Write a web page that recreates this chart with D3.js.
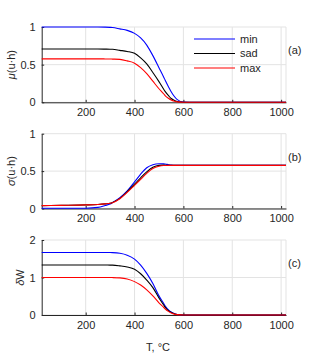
<!DOCTYPE html>
<html>
<head>
<meta charset="utf-8">
<script src="https://cdn.jsdelivr.net/npm/d3@7"></script>
<style>
  body { margin: 0; background: #fff; }
  svg text { font-family: "Liberation Sans", Arial, sans-serif; fill: #262626; }
</style>
</head>
<body>
<svg width="316" height="356"></svg>
<script>
// temperature samples (°C)
var temps = [20, 100, 200, 250, 280, 300, 310, 340, 370, 400, 425, 450, 475, 500, 520, 525, 540, 550, 560, 575, 600, 650, 700, 800, 900, 1020];

// (a) mu(u·h)
var muMin = [1, 1, 1, 1, 0.998, 0.995, 0.993, 0.975, 0.955, 0.915, 0.855, 0.76, 0.62, 0.46, 0.33, 0.295, 0.2, 0.14, 0.09, 0.035, 0.003, 0, 0, 0, 0, 0];
var muSad = [0.707, 0.707, 0.707, 0.707, 0.706, 0.705, 0.704, 0.69, 0.675, 0.65, 0.59, 0.51, 0.395, 0.275, 0.17, 0.145, 0.085, 0.05, 0.03, 0.01, 0, 0, 0, 0, 0, 0];
var muMax = [0.577, 0.577, 0.577, 0.577, 0.576, 0.575, 0.574, 0.57, 0.55, 0.52, 0.46, 0.38, 0.28, 0.18, 0.11, 0.09, 0.05, 0.03, 0.018, 0.006, 0, 0, 0, 0, 0, 0];

// (b) sigma(u·h)
var sgMin = [0.003, 0.003, 0.004, 0.015, 0.04, 0.06, 0.08, 0.145, 0.235, 0.355, 0.46, 0.545, 0.585, 0.598, 0.597, 0.595, 0.585, 0.58, 0.578, 0.577, 0.577, 0.577, 0.577, 0.577, 0.577, 0.577];
var sgSad = [0.038, 0.042, 0.048, 0.054, 0.062, 0.07, 0.08, 0.135, 0.225, 0.325, 0.41, 0.49, 0.55, 0.577, 0.58, 0.579, 0.578, 0.577, 0.577, 0.577, 0.577, 0.577, 0.577, 0.577, 0.577, 0.577];
var sgMax = [0.038, 0.042, 0.048, 0.054, 0.062, 0.07, 0.078, 0.13, 0.215, 0.31, 0.39, 0.47, 0.535, 0.565, 0.574, 0.575, 0.577, 0.577, 0.577, 0.577, 0.577, 0.577, 0.577, 0.577, 0.577, 0.577];

// (c) delta W
var dwMin = [1.667, 1.667, 1.667, 1.667, 1.666, 1.665, 1.663, 1.645, 1.595, 1.49, 1.33, 1.11, 0.84, 0.51, 0.3, 0.245, 0.13, 0.08, 0.045, 0.015, 0, 0, 0, 0, 0, 0];
var dwSad = [1.333, 1.333, 1.333, 1.333, 1.332, 1.331, 1.33, 1.31, 1.28, 1.22, 1.1, 0.93, 0.73, 0.455, 0.26, 0.21, 0.11, 0.07, 0.04, 0.012, 0, 0, 0, 0, 0, 0];
var dwMax = [1, 1, 1, 1, 1, 0.999, 0.998, 0.99, 0.96, 0.89, 0.8, 0.67, 0.51, 0.325, 0.2, 0.165, 0.09, 0.055, 0.03, 0.01, 0, 0, 0, 0, 0, 0];

var seriesNames = ['min', 'sad', 'max'];
var seriesColors = ['#0000ff', '#000000', '#ff0000'];
var xTicks = [200, 400, 600, 800, 1000];

var svg = d3.select('svg');
var left = 41.7, right = 286;
var x = d3.scaleLinear().domain([20, 1020]).range([left, right]);

var panels = [
  { top: 27, bottom: 102.3, ymax: 1, yTicks: [0, 0.5, 1], tag: '(a)', sym: 'μ', rest: '(u·h)', labX: 11, data: [muMin, muSad, muMax] },
  { top: 133.7, bottom: 208.5, ymax: 1, yTicks: [0, 0.5, 1], tag: '(b)', sym: 'σ', rest: '(u·h)', labX: 11, data: [sgMin, sgSad, sgMax] },
  { top: 240, bottom: 315, ymax: 2, yTicks: [0, 1, 2], tag: '(c)', sym: 'δ', rest: 'W', labX: 20, data: [dwMin, dwSad, dwMax] }
];

panels.forEach(function (p, pi) {
  var y = d3.scaleLinear().domain([0, p.ymax]).range([p.bottom, p.top]);
  var g = svg.append('g');

  // grid
  g.selectAll('line.vg').data(xTicks).enter().append('line')
    .attr('x1', function (d) { return x(d); }).attr('x2', function (d) { return x(d); })
    .attr('y1', p.top).attr('y2', p.bottom)
    .attr('stroke', '#e3e3e3').attr('stroke-width', 1);
  g.selectAll('line.hg').data(p.yTicks).enter().append('line')
    .attr('x1', left).attr('x2', right)
    .attr('y1', function (d) { return y(d); }).attr('y2', function (d) { return y(d); })
    .attr('stroke', '#e3e3e3').attr('stroke-width', 1);
  g.append('line').attr('x1', right).attr('x2', right).attr('y1', p.top).attr('y2', p.bottom)
    .attr('stroke', '#e3e3e3');

  // axes
  var xAxis = d3.axisBottom(x).tickValues(xTicks).tickSizeInner(-2.5).tickSizeOuter(0).tickPadding(6)
    .tickFormat(d3.format('d'));
  var ax = g.append('g').attr('transform', 'translate(0,' + p.bottom + ')').call(xAxis);
  var yAxis = d3.axisLeft(y).tickValues(p.yTicks).tickSizeInner(-2.5).tickSizeOuter(0).tickPadding(6)
    .tickFormat(d3.format('~g'));
  var ay = g.append('g').attr('transform', 'translate(' + left + ',0)').call(yAxis);
  [ax, ay].forEach(function (a) {
    a.select('.domain').attr('stroke', '#262626');
    a.selectAll('.tick line').attr('stroke', '#262626');
    a.selectAll('.tick text').style('font-size', '11px').attr('fill', '#262626')
      .style('font-family', '"Liberation Sans", Arial, sans-serif');
  });

  // curves
  var line = d3.line()
    .x(function (d, i) { return x(temps[i]); })
    .y(function (d) { return y(d); })
    .curve(d3.curveMonotoneX);
  g.selectAll('path.curve').data(p.data).enter().append('path')
    .attr('class', 'curve')
    .attr('d', line)
    .attr('fill', 'none')
    .attr('stroke', function (d, i) { return seriesColors[i]; })
    .attr('stroke-width', 1.1);

  // y label
  var lab = g.append('text')
    .attr('transform', 'translate(' + p.labX + ',' + ((p.top + p.bottom) / 2) + ') rotate(-90)')
    .attr('text-anchor', 'middle')
    .attr('dy', '0.35em')
    .style('font-size', '11px');
  lab.append('tspan').style('font-style', 'italic').text(p.sym);
  lab.append('tspan').text(p.rest);

  // panel tag
  g.append('text')
    .attr('x', 288).attr('y', p.top + 23)
    .attr('dy', '0.35em')
    .style('font-size', '11px')
    .text(p.tag);

  // legend in panel (a)
  if (pi === 0) {
    var leg = g.selectAll('g.leg').data(seriesNames).enter().append('g')
      .attr('transform', function (d, i) { return 'translate(194,' + (39 + i * 14.5) + ')'; });
    leg.append('line').attr('x1', 0).attr('x2', 41).attr('y1', 0).attr('y2', 0)
      .attr('stroke', function (d, i) { return seriesColors[i]; }).attr('stroke-width', 1.1);
    leg.append('text').attr('x', 46).attr('dy', '0.35em').style('font-size', '11px')
      .text(function (d) { return d; });
  }
});

svg.append('text')
  .attr('x', 158).attr('y', 351)
  .attr('text-anchor', 'middle')
  .style('font-size', '11px')
  .text('T, °C');
</script>
</body>
</html>
